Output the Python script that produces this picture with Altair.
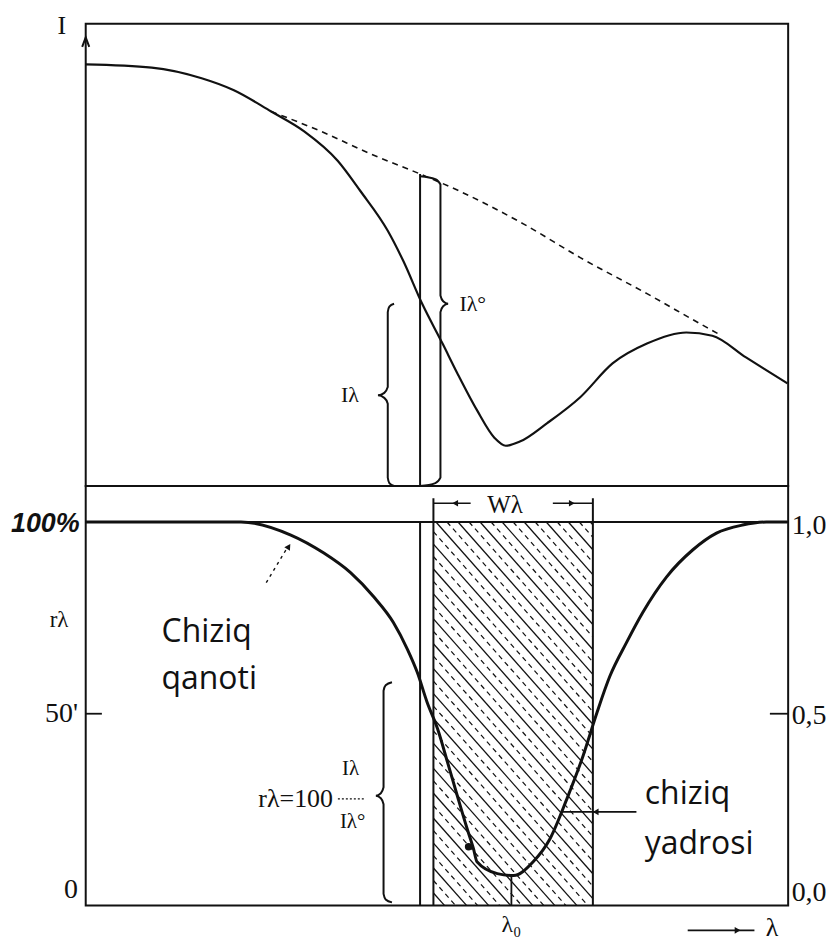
import altair as alt
import pandas as pd
import numpy as np

# ---------------- values ----------------
# upper panel: observed intensity profile I(λ) and the continuum Iλ° (dashed)
lam_obs = [0, 9.4, 16.5, 21.1, 26.4, 31.1, 35.9, 39.1, 43.0, 45.2, 47.9, 50.8, 52.9,
           55.7, 58.2, 59.8, 61.8, 65.7, 70.4, 75.0, 79.9, 85.5, 89.2, 94.0, 99.9]
I_obs = [91.2, 90.5, 88.2, 85.6, 81.0, 76.7, 70.3, 63.8, 55.2, 48.7, 39.4, 30.8, 24.4,
         16.4, 10.4, 8.7, 9.6, 13.6, 19.2, 26.5, 30.8, 33.2, 32.5, 27.8, 22.2]
lam_cont = [26.4, 33.5, 40.6, 47.9, 52.9, 62.3, 70.4, 79.9, 88.4, 90.2]
I_cont = [81.0, 76.7, 71.8, 67.3, 64.0, 56.7, 49.4, 41.6, 34.3, 32.8]

# lower panel: residual intensity rλ (%)
lam_r = [0, 22.1, 29.2, 33.9, 37.7, 41.0, 43.8, 45.8, 47.2, 48.6, 50.1, 51.5, 52.9, 54.3,
         55.2, 55.7, 58.6, 60.9, 63.7, 66.1, 68.5, 70.8, 72.8, 74.6, 77.0, 79.3, 82.7,
         86.4, 89.8, 93.5, 96.9, 99.9]
r_pct = [100, 100, 96.6, 91.9, 86.8, 80.5, 73.8, 66.8, 60.8, 53.0, 46.0, 37.4, 28.6, 20.0,
         14.8, 11.4, 8.3, 7.8, 11.4, 17.4, 27.8, 39.0, 50.4, 59.7, 68.6, 76.4, 85.7,
         92.7, 97.1, 99.2, 100, 100]

lam_line = 47.6            # wavelength where Iλ and Iλ° are measured
I_line, I0_line = 39.4, 67.5
r_line = 58.2
W_left, W_right = 49.5, 72.2   # equivalent width Wλ
lam_0, r_min = 60.6, 7.8
dot_lam, dot_r = 54.5, 15.3

left_ticks = [100, 50, 0]
left_labels = ["100%", "50'", "0"]
right_labels = ["1,0", "0,5", "0,0"]

# ---------------- helpers ----------------
X = alt.X("x:Q", scale=alt.Scale(domain=[0, 100], nice=False, zero=False), axis=None)
YT = alt.Y("y:Q", scale=alt.Scale(domain=[0, 100], nice=False, zero=False), axis=None)
YB = alt.Y("y:Q", scale=alt.Scale(domain=[0, 109.4], nice=False, zero=False), axis=None)
INK = "#111111"
SERIF = "Liberation Serif"
SANS = "Open Sans"


def line_layer(xs, ys, Y, **kw):
    df = pd.DataFrame({"x": xs, "y": ys, "o": range(len(xs))})
    return alt.Chart(df).mark_line(color=INK, **kw).encode(x=X, y=Y, order="o:Q")


def rules(rows, Y, **kw):
    df = pd.DataFrame(rows, columns=["x", "y", "x2", "y2"])
    return alt.Chart(df).mark_rule(color=INK, **kw).encode(x=X, y=Y, x2="x2:Q", y2="y2:Q")


def brace(x, y0, y1, yt, cx, tdx, e):
    return [(x + cx, y1), (x + cx * 0.25, y1 - e * 0.35), (x, y1 - e), (x, yt + e),
            (x + tdx * 0.35, yt + e * 0.3), (x + tdx, yt), (x + tdx * 0.35, yt - e * 0.3),
            (x, yt - e), (x, y0 + e), (x + cx * 0.25, y0 + e * 0.35), (x + cx, y0)]


def brace_layer(pts, Y):
    xs, ys = zip(*pts)
    return line_layer(list(xs), list(ys), Y, strokeWidth=2, interpolate="monotone")


def texts(rows, Y, **kw):
    df = pd.DataFrame(rows, columns=["x", "y", "t"])
    return alt.Chart(df).mark_text(color=INK, **kw).encode(x=X, y=Y, text="t:N")


def point(x, y, Y, **kw):
    df = pd.DataFrame({"x": [x], "y": [y]})
    return alt.Chart(df).mark_point(color=INK, **kw).encode(x=X, y=Y)


# ---------------- upper panel ----------------
top = alt.layer(
    line_layer(lam_cont, I_cont, YT, strokeWidth=1.6, strokeDash=[6, 5], interpolate="monotone"),
    line_layer(lam_obs, I_obs, YT, strokeWidth=2.2, interpolate="monotone"),
    rules([[lam_line, 0, lam_line, I0_line]], YT, strokeWidth=2),
    brace_layer(brace(50.5, 0, I0_line - 0.5, I_line, -2.9, 1.1, 1.8), YT),
    brace_layer(brace(43.0, 0, I_line, 19.6, 0.9, -1.4, 1.8), YT),
    texts([[-3.4, 99.4, "I"]], YT, font=SERIF, fontSize=26),
    texts([[37.6, 19.6, "Iλ"]], YT, font=SERIF, fontSize=22),
    texts([[53.2, 39.4, "Iλ°"]], YT, font=SERIF, fontSize=22, align="left"),
    point(0, 96.0, YT, shape="M-0.6,0.8L0,-0.8L0.6,0.8", size=140, filled=False,
          strokeWidth=2, opacity=1),
).properties(width=705, height=464)

# ---------------- lower panel ----------------
# diagonal hatching of the equivalent-width rectangle
slope, gap = -2.07, 3.25
hatch_solid, hatch_dash = [], []
for i, c in enumerate(np.arange(gap, 100 - slope * (W_right - W_left), gap)):
    xa = max(W_left, W_left + (100 - c) / slope)
    xb = min(W_right, W_left + (0 - c) / slope)
    ya = c + slope * (xa - W_left)
    yb = c + slope * (xb - W_left)
    (hatch_solid if i % 2 == 0 else hatch_dash).append([xa, ya, xb, yb])

left_dy = [2, 0, -15]
right_dy = [4, 2, -12]
bottom = alt.layer(
    rules(hatch_solid, YB, strokeWidth=1.3),
    rules(hatch_dash, YB, strokeWidth=1.2, strokeDash=[5, 4]),
    rules([[0, 100, 100, 100]], YB, strokeWidth=2),
    rules([[lam_line, 0, lam_line, 100]], YB, strokeWidth=2),
    rules([[W_left, 0, W_left, 106.2], [W_right, 0, W_right, 106.2]], YB, strokeWidth=2),
    rules([[W_left, 104.9, 54.8, 104.9], [66.5, 104.9, W_right, 104.9]], YB, strokeWidth=1.6),
    point(52.6, 104.9, YB, shape="triangle-left", size=45, filled=True, opacity=1),
    point(69.2, 104.9, YB, shape="triangle-right", size=45, filled=True, opacity=1),
    rules([[lam_0, 0, lam_0, r_min]], YB, strokeWidth=1.8),
    line_layer(lam_r, r_pct, YB, strokeWidth=3, interpolate="monotone"),
    alt.Chart(pd.DataFrame({"x": [dot_lam], "y": [dot_r]})).mark_circle(
        color=INK, size=55, opacity=1).encode(x=X, y=YB),
    brace_layer(brace(42.4, 0.8, r_line, 28.6, 1.2, -1.1, 2.2), YB),
    rules([[35.9, 27.8, 39.7, 27.8]], YB, strokeWidth=1.2, strokeDash=[2, 2]),
    rules([[0, 50, 2.3, 50], [97.4, 50, 100, 50]], YB, strokeWidth=1.8),
    # "Chiziq qanoti" pointer
    line_layer([25.7, 28.6], [84.2, 93.0], YB, strokeWidth=1.4, strokeDash=[3, 4]),
    point(28.9, 93.6, YB, shape="triangle-up", size=45, angle=33, filled=True, opacity=1),
    # "chiziq yadrosi" pointer
    rules([[67.9, 24.4, 78.4, 24.4]], YB, strokeWidth=1.6),
    point(72.6, 24.4, YB, shape="triangle-left", size=45, filled=True, opacity=1),
    # λ direction arrow
    rules([[85.7, -6.5, 95.2, -6.5]], YB, strokeWidth=1.6),
    point(92.8, -6.5, YB, shape="triangle-right", size=45, filled=True, opacity=1),
    # tick labels
    texts([[-0.85, 99.5, left_labels[0]]], YB, font="Liberation Sans", fontSize=27,
          fontStyle="italic", fontWeight="bold", align="right"),
    *[texts([[-1.1, v, lab]], YB, font=SERIF, fontSize=28, align="right", dy=d)
      for v, lab, d in zip(left_ticks[1:], left_labels[1:], left_dy[1:])],
    *[texts([[100.5, v, lab]], YB, font=SERIF, fontSize=28, align="left", dy=d)
      for v, lab, d in zip(left_ticks, right_labels, right_dy)],
    texts([[-3.8, 74.5, "rλ"]], YB, font=SERIF, fontSize=23),
    texts([[59.7, 104.4, "Wλ"]], YB, font=SERIF, fontSize=25),
    texts([[lam_0, -5.2, "λ₀"]], YB, font=SERIF, fontSize=24),
    texts([[97.7, -6.0, "λ"]], YB, font=SERIF, fontSize=26),
    texts([[35.2, 27.8, "rλ=100"]], YB, font=SERIF, fontSize=26, align="right"),
    texts([[37.7, 35.6, "Iλ"], [38.0, 21.8, "Iλ°"]], YB, font=SERIF, fontSize=21),
    texts([[10.8, 71.4, "Chiziq"], [10.8, 59.0, "qanoti"]], YB, font=SANS, fontSize=32,
          align="left"),
    texts([[79.6, 29.1, "chiziq"], [79.6, 16.1, "yadrosi"]], YB, font=SANS, fontSize=32,
          align="left"),
).properties(width=705, height=421)

chart = (
    alt.vconcat(top, bottom, spacing=0, bounds="flush")
    .properties(padding={"left": 1, "top": 2, "right": 2, "bottom": 2}, background="white")
    .configure_view(stroke=INK, strokeWidth=2)
)

chart.save("out.html", embed_options={"renderer": "svg", "actions": False})
